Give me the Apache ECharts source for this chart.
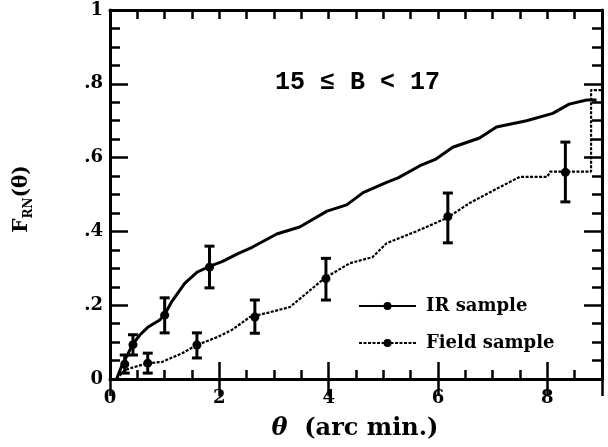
<!DOCTYPE html>
<html><head><meta charset="utf-8">
<script src="https://cdn.jsdelivr.net/npm/echarts@6/dist/echarts.min.js"></script>
<style>html,body{margin:0;padding:0;background:#fff}#c{width:608px;height:447px}</style>
</head><body><div id="c"></div>
<script>
// IR sample cumulative curve
const irTheta = [0.12,0.2,0.3,0.42,0.55,0.69,0.91,1.0,1.13,1.37,1.6,1.82,2.05,2.34,2.6,3.05,3.47,3.97,4.33,4.63,5.06,5.27,5.67,5.95,6.27,6.76,7.07,7.62,8.1,8.4,8.72,8.9];
const irF     = [0,0.03,0.06,0.095,0.12,0.14,0.16,0.175,0.21,0.26,0.29,0.305,0.318,0.34,0.357,0.393,0.412,0.455,0.472,0.505,0.533,0.545,0.578,0.595,0.628,0.653,0.683,0.70,0.72,0.745,0.756,0.756];
// Field sample cumulative curve
const fieldTheta = [0.12,0.27,0.5,0.7,0.95,1.32,1.59,1.97,2.23,2.56,2.9,3.29,3.6,3.93,4.39,4.8,5.06,5.6,6.16,6.58,7.13,7.5,8.0,8.05,8.8,8.8,9.0];
const fieldF     = [0,0.024,0.035,0.043,0.046,0.07,0.092,0.114,0.133,0.168,0.18,0.195,0.233,0.274,0.314,0.33,0.368,0.40,0.436,0.477,0.52,0.548,0.548,0.562,0.562,0.783,0.783];
// Error bars
const irErrTheta = [0.42,1.0,1.82];
const irErrMid   = [0.093,0.173,0.303];
const irErrLow   = [0.065,0.125,0.247];
const irErrHigh  = [0.12,0.22,0.36];
const fieldErrTheta = [0.27,0.69,1.59,2.65,3.95,6.18,8.33];
const fieldErrMid   = [0.04,0.043,0.092,0.168,0.272,0.44,0.56];
const fieldErrLow   = [0.016,0.016,0.057,0.124,0.214,0.369,0.48];
const fieldErrHigh  = [0.065,0.07,0.125,0.214,0.327,0.504,0.642];
// tick labels
const xTickLabels = {0:'0',2:'2',4:'4',6:'6',8:'8'};
const yTickLabels = ['0','.2','.4','.6','.8','1'];

const zip = (a,b)=>a.map((v,i)=>[v,b[i]]);
const errData = (t,m,l,h)=>t.map((v,i)=>[v,m[i],l[i],h[i]]);
const serif = 'DejaVu Serif';
const lblStyle = {fontFamily:serif,fontWeight:'bold',fontSize:18,color:'#000'};

function errRender(params, api){
  const x = api.value(0);
  const p = api.coord([x, api.value(1)]);
  const lo = api.coord([x, api.value(2)]);
  const hi = api.coord([x, api.value(3)]);
  const cap = 5, st = {stroke:'#000', lineWidth:3};
  return {type:'group', children:[
    {type:'line', shape:{x1:p[0],y1:lo[1],x2:p[0],y2:hi[1]}, style:st},
    {type:'line', shape:{x1:p[0]-cap,y1:lo[1],x2:p[0]+cap,y2:lo[1]}, style:st},
    {type:'line', shape:{x1:p[0]-cap,y1:hi[1],x2:p[0]+cap,y2:hi[1]}, style:st},
    {type:'circle', shape:{cx:p[0],cy:p[1],r:4.5}, style:{fill:'#000'}}
  ]};
}

const axLine = {show:true, onZero:false, lineStyle:{color:'#000', width:3}};
const noLine = {show:false};
function xa(pos, interval, len, showLine, labels){
  return {type:'value', min:0, max:9, interval:interval, position:pos,
    axisLine: showLine ? axLine : noLine,
    axisTick:{show:true, inside:true, length:len, lineStyle:{color:'#000', width:2.5}},
    axisLabel: labels ? {show:true, interval:0, margin:10, ...lblStyle,
      formatter:v=> (xTickLabels[v]!==undefined ? xTickLabels[v] : '')} : {show:false},
    splitLine:{show:false}};
}
function ya(pos, labels){
  return {type:'value', min:0, max:1, interval:0.2, position:pos,
    axisLine: axLine,
    axisTick:{show:true, inside:true, length:18, lineStyle:{color:'#000', width:2.5}},
    minorTick:{show:true, splitNumber:4, length:10, lineStyle:{color:'#000', width:2.5}},
    axisLabel: labels ? {show:true, margin:7, ...lblStyle,
      formatter:v=>yTickLabels[Math.round(v*5)]} : {show:false},
    splitLine:{show:false}, minorSplitLine:{show:false}};
}

const chart = echarts.init(document.getElementById('c'), null, {renderer:'canvas'});
chart.setOption({
  animation:false,
  backgroundColor:'#fff',
  grid:{left:110, top:10, right:6, bottom:68, outerBoundsMode:'none'},
  xAxis:[ xa('bottom',0.5,9,true,true), xa('bottom',2,17,false,false),
          xa('top',0.5,9,true,false), xa('top',2,17,false,false) ],
  yAxis:[ ya('left',true), ya('right',false) ],
  legend:{orient:'vertical', left:353, top:291, itemWidth:57, itemHeight:10, itemGap:17,
    data:['IR sample','Field sample'],
    textStyle:{...lblStyle, lineHeight:20, padding:[0,0,0,5]}},
  graphic:[
    {type:'text', x:22, y:199, rotation:Math.PI/2,
      style:{text:'{f|F}{s|RN}{f|(θ)}', align:'center', verticalAlign:'middle',
        rich:{f:{fontFamily:serif,fontWeight:'bold',fontSize:20,lineHeight:26,fill:'#000'},
              s:{fontFamily:serif,fontWeight:'bold',fontSize:12,lineHeight:26,verticalAlign:'bottom',fill:'#000'}}}},
    {type:'text', x:355, y:429,
      style:{text:'{i|θ}{n|  (arc min.)}', align:'center', verticalAlign:'middle',
        rich:{i:{fontFamily:serif,fontWeight:'bold',fontStyle:'italic',fontSize:24,fill:'#000'},
              n:{fontFamily:serif,fontWeight:'bold',fontSize:24,fill:'#000'}}}},
    {type:'text', x:275, y:83,
      style:{text:'15 ≤ B < 17', align:'left', verticalAlign:'middle',
        font:'bold 25px "Liberation Mono"', fill:'#000'}}
  ],
  series:[
    {name:'IR sample', type:'line', xAxisIndex:0, yAxisIndex:0, data:zip(irTheta,irF),
      symbol:'circle', symbolSize:8, showSymbol:false, smooth:false,
      lineStyle:{color:'#000', width:3}, itemStyle:{color:'#000'}, z:3},
    {name:'Field sample', type:'line', xAxisIndex:0, yAxisIndex:0, data:zip(fieldTheta,fieldF),
      symbol:'circle', symbolSize:8, showSymbol:false,
      lineStyle:{color:'#000', width:2.2, type:[3,1.5]}, itemStyle:{color:'#000'}, z:3},
    {name:'IR err', type:'custom', xAxisIndex:0, yAxisIndex:0, renderItem:errRender,
      data:errData(irErrTheta,irErrMid,irErrLow,irErrHigh), z:4},
    {name:'Field err', type:'custom', xAxisIndex:0, yAxisIndex:0, renderItem:errRender,
      data:errData(fieldErrTheta,fieldErrMid,fieldErrLow,fieldErrHigh), z:4}
  ]
});
</script></body></html>
